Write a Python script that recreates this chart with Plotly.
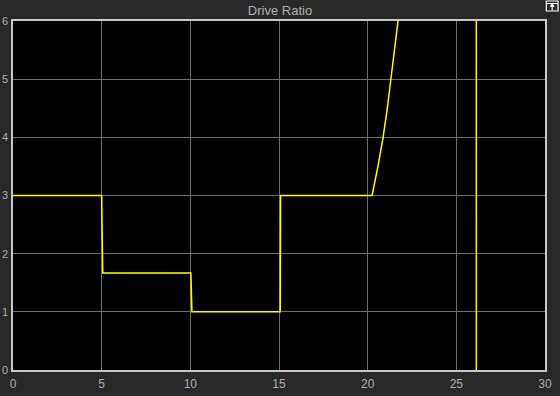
import plotly.graph_objects as go

# Data (time in s, drive ratio)
time = [0.0, 5.0, 5.06, 10.03, 10.09, 15.07, 15.09, 20.25, 20.58, 20.87, 21.11,
        21.32, 21.52, 21.71, 21.90, 22.30, 26.12, 26.13]
ratio = [3.0, 3.0, 1.667, 1.667, 1.0, 1.0, 3.0, 3.0, 3.5, 4.0, 4.5,
         5.0, 5.5, 6.0, 6.6, 8.0, 30.0, -1.0]

x_ticks = [0, 5, 10, 15, 20, 25, 30]
y_ticks = [0, 1, 2, 3, 4, 5, 6]
title_text = "Drive Ratio"

fig = go.Figure()
fig.add_trace(go.Scatter(
    x=time, y=ratio, mode="lines",
    line=dict(color="#ffff00", width=1.5),
    showlegend=False, hoverinfo="skip",
))

axis_common = dict(
    showgrid=True, gridcolor="#6e6e6e", gridwidth=1,
    showline=True, linecolor="#c8c8c8", linewidth=1.5, mirror=True,
    zeroline=False, ticks="", automargin=False,
)

fig.update_xaxes(range=[0, 30], tickvals=x_ticks, ticktext=[str(v) for v in x_ticks],
                 ticklabelstandoff=2,
                 tickfont=dict(color="#b0b0b0", size=12,
                               family="Liberation Sans, Arial, sans-serif"),
                 **axis_common)
fig.update_yaxes(range=[0, 6], tickvals=y_ticks, ticktext=[str(v) for v in y_ticks],
                 ticklabelstandoff=1,
                 tickfont=dict(color="#b0b0b0", size=11,
                               family="Liberation Sans, Arial, sans-serif"),
                 **axis_common)

# Small "undock" icon in the top-right corner
fig.add_shape(type="rect", xref="paper", yref="paper",
              x0=1.0025, x1=1.0245, y0=1.0287, y1=1.0573,
              line=dict(color="white", width=1.2), fillcolor="rgba(0,0,0,0)")
fig.add_shape(type="line", xref="paper", yref="paper",
              x0=1.0025, x1=1.0245, y0=1.050, y1=1.050,
              line=dict(color="white", width=1))
fig.add_shape(type="path", xref="paper", yref="paper",
              path="M 1.0100 1.0420 L 1.0135 1.0490 L 1.0170 1.0420 Z",
              fillcolor="white", line=dict(color="white", width=1))
fig.add_shape(type="line", xref="paper", yref="paper",
              x0=1.0135, x1=1.0135, y0=1.0300, y1=1.0440,
              line=dict(color="white", width=1.2))

fig.update_layout(
    width=560, height=396,
    margin=dict(l=13, r=15, t=21, b=26),
    paper_bgcolor="#282828", plot_bgcolor="#000000",
    title=dict(text=title_text, x=0.5, xanchor="center", y=0.973, yanchor="middle",
               font=dict(color="#b0b0b0", size=13,
                         family="Liberation Sans, Arial, sans-serif")),
    showlegend=False,
)

fig.write_html("out.html", config={"displayModeBar": False})
